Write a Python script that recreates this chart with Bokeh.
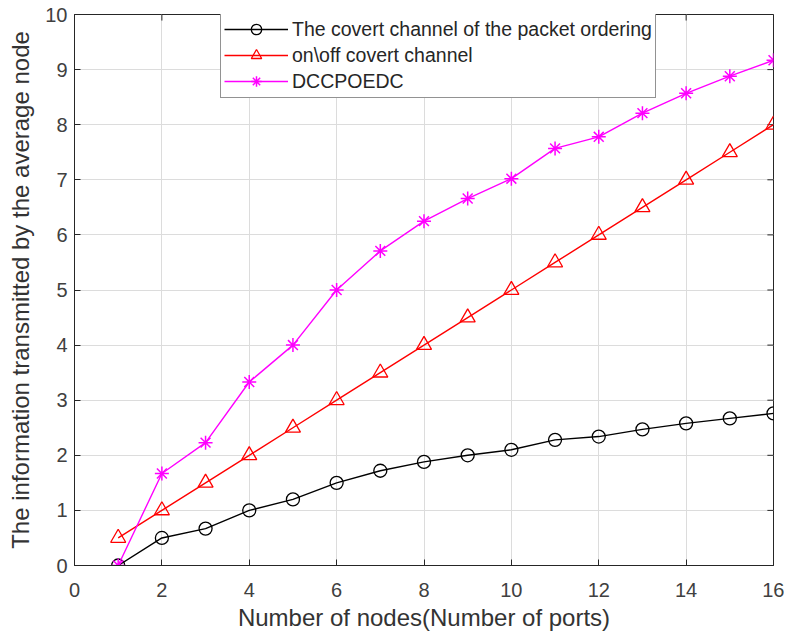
from bokeh.plotting import figure
from bokeh.models import Legend, LegendItem, FixedTicker, Range1d
from bokeh.embed import file_html
from bokeh.resources import INLINE

nodes = list(range(1, 17))
packet_ordering = [0, 0.5, 0.67, 1.0, 1.2, 1.5, 1.72, 1.88, 2.0, 2.1, 2.28, 2.34, 2.47, 2.58, 2.67, 2.76]
on_off = [0.5, 1.0, 1.5, 2.0, 2.5, 3.0, 3.5, 4.0, 4.5, 5.0, 5.5, 6.0, 6.5, 7.0, 7.5, 8.0]
dccpoedc = [0, 1.67, 2.23, 3.33, 4.0, 5.0, 5.71, 6.25, 6.66, 7.02, 7.57, 7.78, 8.21, 8.57, 8.88, 9.17]
x_ticks = [0, 2, 4, 6, 8, 10, 12, 14, 16]
y_ticks = [0, 1, 2, 3, 4, 5, 6, 7, 8, 9, 10]
labels = ["The covert channel of the packet ordering", "on\\off covert channel", "DCCPOEDC"]

FONT = "Liberation Sans"
AX = "#262626"
X_MIN, X_MAX, Y_MIN, Y_MAX = 0, 16, 0, 10

p = figure(width=784, height=633, output_backend="svg", toolbar_location=None,
           x_range=Range1d(X_MIN, X_MAX), y_range=Range1d(Y_MIN, Y_MAX),
           min_border_left=74, min_border_right=11, min_border_top=14, min_border_bottom=68)
p.background_fill_color = "white"
p.border_fill_color = "white"
p.outline_line_color = AX
p.outline_line_width = 1

for ax in (p.xaxis[0], p.yaxis[0]):
    ax.major_tick_in = 6
    ax.major_tick_out = 0
    ax.minor_tick_in = 0
    ax.minor_tick_out = 0
    ax.axis_line_color = AX
    ax.major_tick_line_color = AX
    ax.major_label_text_font = FONT
    ax.major_label_text_font_size = "20px"
    ax.major_label_text_color = "#404040"
    ax.axis_label_text_font = FONT
    ax.axis_label_text_font_size = "24px"
    ax.axis_label_text_font_style = "normal"
    ax.axis_label_text_color = "#333333"
p.xaxis[0].ticker = FixedTicker(ticks=x_ticks)
p.yaxis[0].ticker = FixedTicker(ticks=y_ticks)
p.xaxis[0].axis_label = "Number of nodes(Number of ports)"
p.yaxis[0].axis_label = "The information transmitted by the average node"
p.xaxis[0].major_label_standoff = 17
p.yaxis[0].major_label_standoff = 7
p.xaxis[0].axis_label_standoff = 4
p.yaxis[0].axis_label_standoff = 8

# inward tick marks on the top and right box edges (MATLAB "box on" look)
tick_dy = 0.11
tick_dx = 0.14
p.segment(x0=x_ticks, y0=[Y_MAX] * len(x_ticks), x1=x_ticks,
          y1=[Y_MAX - tick_dy] * len(x_ticks), line_color=AX, line_width=1)
p.segment(x0=[X_MAX] * len(y_ticks), y0=y_ticks, x1=[X_MAX - tick_dx] * len(y_ticks),
          y1=y_ticks, line_color=AX, line_width=1)

p.xgrid.ticker = FixedTicker(ticks=x_ticks)
p.ygrid.ticker = FixedTicker(ticks=y_ticks)
p.grid.grid_line_color = "#dcdcdc"
p.grid.grid_line_width = 1

l1 = p.line(nodes, packet_ordering, line_color="black", line_width=1.4)
m1 = p.scatter(nodes, packet_ordering, marker="circle", size=13, line_color="black",
               fill_color=None, line_width=1.3)
l2 = p.line(nodes, on_off, line_color="#ff0000", line_width=1.4)
m2 = p.scatter(nodes, on_off, marker="triangle", size=15, line_color="#ff0000",
               fill_color=None, line_width=1.3)
l3 = p.line(nodes, dccpoedc, line_color="#ff00ff", line_width=1.4)
m3 = p.scatter(nodes, dccpoedc, marker="asterisk", size=14, line_color="#ff00ff",
               line_width=1.5)

legend = Legend(items=[LegendItem(label=labels[0], renderers=[l1, m1]),
                       LegendItem(label=labels[1], renderers=[l2, m2]),
                       LegendItem(label=labels[2], renderers=[l3, m3])],
                location=(146, 467))
legend.label_text_font = FONT
legend.label_text_font_size = "19.5px"
legend.label_text_color = "#262626"
legend.border_line_color = AX
legend.border_line_width = 1
legend.background_fill_color = "white"
legend.background_fill_alpha = 1
legend.glyph_width = 64
legend.glyph_height = 26
legend.label_height = 26
legend.label_standoff = 4
legend.spacing = 0
legend.padding = 3
legend.margin = 0
p.add_layout(legend, "center")

open("out.html", "w").write(file_html(p, INLINE))
